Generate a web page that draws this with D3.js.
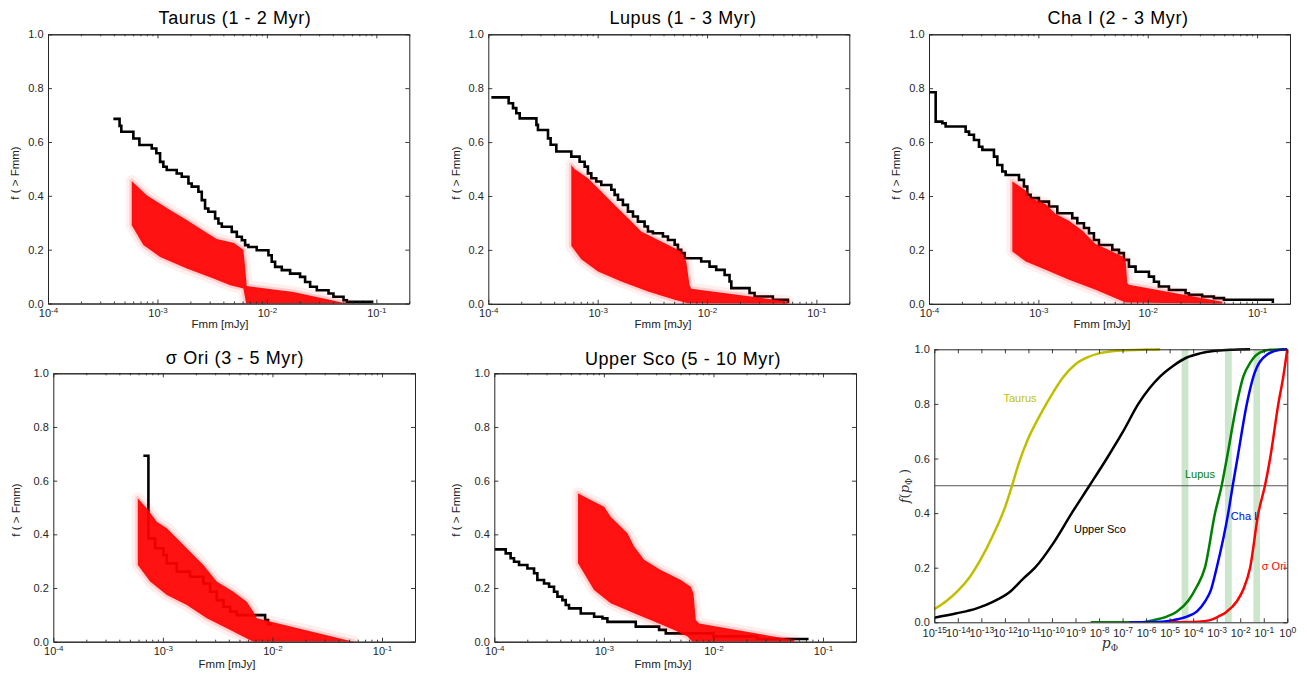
<!DOCTYPE html>
<html><head><meta charset="utf-8">
<script src="https://cdn.jsdelivr.net/npm/d3@7"></script>
<style>
body{margin:0;background:#fff;}
svg{display:block;font-family:"Liberation Sans",Arial,Helvetica,sans-serif;}
</style></head><body>
<svg id="chart" width="1307" height="673"></svg>
<script>
// ---------------- DATA (log10 flux, fraction) ----------------
const fluxMajorExp = [-4, -3, -2, -1];
const fracTicks = [0, 0.2, 0.4, 0.6, 0.8, 1.0];

const taurusObs = [[-3.403,0.686],[-3.346,0.660],[-3.330,0.638],[-3.220,0.613],[-3.165,0.589],[-3.052,0.576],[-3.010,0.558],[-2.976,0.526],[-2.946,0.508],[-2.915,0.496],[-2.824,0.483],[-2.778,0.471],[-2.717,0.446],[-2.687,0.434],[-2.626,0.415],[-2.595,0.384],[-2.565,0.353],[-2.535,0.341],[-2.473,0.316],[-2.443,0.297],[-2.412,0.285],[-2.321,0.266],[-2.275,0.248],[-2.229,0.235],[-2.199,0.217],[-2.169,0.210],[-2.093,0.198],[-1.986,0.179],[-1.956,0.155],[-1.925,0.136],[-1.864,0.124],[-1.788,0.111],[-1.697,0.099],[-1.651,0.080],[-1.605,0.062],[-1.544,0.049],[-1.437,0.037],[-1.392,0.025],[-1.300,0.012],[-1.270,0.006],[-1.027,0.006]];
const taurusRedUpper = [[-3.235,0.455],[-3.098,0.402],[-2.885,0.347],[-2.732,0.310],[-2.580,0.270],[-2.458,0.240],[-2.300,0.225],[-2.215,0.200],[-2.200,0.140],[-2.184,0.065],[-1.758,0.043],[-1.270,0.0]];
const taurusRedLower = [[-3.235,0.291],[-3.129,0.217],[-2.976,0.173],[-2.732,0.130],[-2.489,0.093],[-2.336,0.068],[-2.215,0.056],[-2.190,0.0],[-1.270,0.0]];

const lupusObs = [[-3.972,0.766],[-3.814,0.744],[-3.774,0.726],[-3.744,0.707],[-3.713,0.688],[-3.560,0.664],[-3.546,0.645],[-3.454,0.614],[-3.430,0.590],[-3.378,0.565],[-3.241,0.546],[-3.165,0.527],[-3.119,0.509],[-3.089,0.484],[-3.058,0.466],[-3.013,0.454],[-2.967,0.441],[-2.875,0.423],[-2.845,0.404],[-2.814,0.386],[-2.769,0.367],[-2.723,0.342],[-2.677,0.324],[-2.632,0.305],[-2.571,0.287],[-2.540,0.268],[-2.495,0.262],[-2.403,0.250],[-2.357,0.237],[-2.296,0.219],[-2.266,0.200],[-2.236,0.188],[-2.205,0.169],[-2.053,0.157],[-1.977,0.138],[-1.916,0.126],[-1.839,0.107],[-1.794,0.083],[-1.778,0.058],[-1.611,0.040],[-1.565,0.027],[-1.398,0.015],[-1.260,0.003]];
const lupusRedUpper = [[-3.241,0.515],[-3.211,0.500],[-3.089,0.466],[-2.967,0.417],[-2.845,0.367],[-2.723,0.318],[-2.601,0.268],[-2.419,0.231],[-2.236,0.194],[-2.190,0.157],[-2.160,0.071],[-2.144,0.056],[-1.260,0.009]];
const lupusRedLower = [[-3.241,0.215],[-3.150,0.165],[-2.997,0.120],[-2.784,0.083],[-2.540,0.046],[-2.297,0.015],[-2.175,0.002],[-1.260,0.0]];

const chaObs = [[-3.997,0.785],[-3.939,0.676],[-3.878,0.670],[-3.848,0.658],[-3.665,0.639],[-3.634,0.627],[-3.589,0.608],[-3.543,0.583],[-3.512,0.571],[-3.406,0.546],[-3.375,0.515],[-3.330,0.491],[-3.299,0.478],[-3.177,0.460],[-3.132,0.435],[-3.101,0.404],[-3.071,0.392],[-2.995,0.379],[-2.903,0.361],[-2.827,0.336],[-2.690,0.318],[-2.644,0.299],[-2.583,0.281],[-2.537,0.262],[-2.492,0.237],[-2.446,0.218],[-2.324,0.200],[-2.263,0.188],[-2.218,0.163],[-2.172,0.138],[-2.111,0.119],[-1.989,0.101],[-1.943,0.082],[-1.898,0.064],[-1.806,0.051],[-1.654,0.039],[-1.623,0.033],[-1.502,0.027],[-1.395,0.021],[-1.303,0.015],[-0.856,0.003]];
const chaRedUpper = [[-3.238,0.455],[-3.116,0.420],[-3.086,0.395],[-2.934,0.370],[-2.842,0.333],[-2.720,0.308],[-2.598,0.272],[-2.477,0.222],[-2.355,0.200],[-2.233,0.176],[-2.202,0.163],[-2.187,0.077],[-2.172,0.071],[-1.319,0.008]];
const chaRedLower = [[-3.238,0.194],[-3.116,0.157],[-2.934,0.126],[-2.720,0.089],[-2.477,0.052],[-2.294,0.021],[-2.202,0.005],[-1.319,0.0]];

const sigmaObs = [[-3.178,0.693],[-3.132,0.385],[-3.071,0.348],[-2.995,0.323],[-2.964,0.292],[-2.873,0.261],[-2.752,0.242],[-2.630,0.217],[-2.569,0.186],[-2.508,0.155],[-2.447,0.130],[-2.386,0.112],[-2.325,0.099],[-2.067,0.081],[-2.040,0.065],[-2.006,0.065]];
const sigmaRedUpper = [[-3.229,0.534],[-3.147,0.497],[-3.055,0.447],[-2.964,0.423],[-2.843,0.373],[-2.751,0.335],[-2.630,0.286],[-2.508,0.224],[-2.356,0.186],[-2.234,0.149],[-2.174,0.112],[-2.143,0.087],[-1.260,0.0]];
const sigmaRedLower = [[-3.229,0.286],[-3.117,0.224],[-2.964,0.174],[-2.782,0.137],[-2.599,0.087],[-2.417,0.050],[-2.234,0.012],[-2.174,0.0],[-1.260,0.0]];

const uscoObs = [[-3.997,0.344],[-3.896,0.329],[-3.851,0.311],[-3.820,0.298],[-3.774,0.286],[-3.698,0.273],[-3.637,0.255],[-3.607,0.230],[-3.546,0.217],[-3.500,0.205],[-3.455,0.186],[-3.424,0.168],[-3.379,0.155],[-3.348,0.137],[-3.318,0.124],[-3.211,0.105],[-3.089,0.093],[-3.013,0.087],[-2.968,0.074],[-2.709,0.056],[-2.496,0.044],[-2.435,0.031],[-2.000,0.020],[-1.600,0.010],[-1.132,0.010]];
const uscoRedUpper = [[-3.236,0.553],[-3.150,0.534],[-2.998,0.503],[-2.938,0.466],[-2.785,0.404],[-2.724,0.355],[-2.633,0.305],[-2.481,0.267],[-2.298,0.230],[-2.207,0.205],[-2.182,0.180],[-2.161,0.081],[-2.130,0.068],[-1.263,0.006]];
const uscoRedLower = [[-3.236,0.292],[-3.090,0.193],[-2.938,0.143],[-2.724,0.106],[-2.542,0.075],[-2.359,0.044],[-2.237,0.019],[-2.191,0.0],[-1.263,0.0]];

// summary panel: log10 p, cumulative fraction
const pTickExp = d3.range(-15, 1);
const taurusCdf = [[-15.0,0.048],[-14.5,0.077],[-14.0,0.115],[-13.5,0.165],[-13.0,0.235],[-12.5,0.320],[-12.0,0.420],[-11.7,0.500],[-11.4,0.585],[-11.0,0.675],[-10.5,0.760],[-10.0,0.835],[-9.5,0.900],[-9.0,0.945],[-8.5,0.970],[-8.0,0.985],[-7.0,0.996],[-6.0,0.999],[-5.4,1.0]];
const uscoCdf = [[-15.0,0.017],[-14.05,0.033],[-13.20,0.051],[-12.49,0.076],[-11.78,0.112],[-11.22,0.160],[-10.72,0.200],[-9.94,0.290],[-9.16,0.400],[-8.41,0.500],[-7.67,0.600],[-6.97,0.700],[-6.33,0.800],[-5.83,0.860],[-5.41,0.900],[-4.84,0.940],[-4.27,0.970],[-3.71,0.985],[-3.14,0.994],[-2.43,0.998],[-1.58,1.0]];
const lupusCdf = [[-8.35,0.0],[-6.26,0.0],[-5.69,0.008],[-5.12,0.021],[-4.70,0.039],[-4.20,0.080],[-3.85,0.130],[-3.50,0.200],[-3.07,0.400],[-2.79,0.500],[-2.57,0.600],[-2.15,0.800],[-1.87,0.900],[-1.58,0.950],[-1.30,0.980],[-0.73,0.998],[0.0,1.0]];
const chaCdf = [[-6.71,0.0],[-5.50,0.001],[-4.84,0.008],[-4.27,0.021],[-3.85,0.039],[-3.50,0.076],[-3.24,0.120],[-3.00,0.200],[-2.51,0.400],[-2.32,0.500],[-2.12,0.600],[-1.72,0.800],[-1.44,0.900],[-0.87,0.980],[-0.31,0.998],[0.0,1.0]];
const sigmaCdf = [[-4.98,0.0],[-3.80,0.002],[-3.28,0.008],[-2.93,0.021],[-2.57,0.039],[-2.15,0.076],[-1.87,0.120],[-1.58,0.200],[-1.23,0.400],[-0.95,0.500],[-0.73,0.600],[-0.38,0.800],[-0.17,0.900],[0.0,1.0]];
const bandRanges = [[-4.49,-4.20],[-2.65,-2.36],[-1.44,-1.16]];
const medianLine = 0.5;

// ---------------- LAYOUT ----------------
const svg = d3.select('#chart');
const FONT = '"Liberation Sans",Arial,Helvetica,sans-serif';
const AX = '#262626';

const panels = [
  {title:'Taurus (1 - 2 Myr)', tx:235, ty:23.5, l:48, r:409.3, t:34.3, b:303.5, ylx:19, yly:173, xlx:220, xly:328, obs:taurusObs, up:taurusRedUpper, lo:taurusRedLower},
  {title:'Lupus (1 - 3 Myr)', tx:683, ty:23.5, l:488.3, r:849.3, t:34.3, b:303.8, ylx:460, yly:173, xlx:663, xly:328, obs:lupusObs, up:lupusRedUpper, lo:lupusRedLower},
  {title:'Cha I (2 - 3 Myr)', tx:1118, ty:23.5, l:929, r:1290, t:34.3, b:303.8, ylx:900, yly:173, xlx:1102, xly:328, obs:chaObs, up:chaRedUpper, lo:chaRedLower},
  {title:'σ Ori (3 - 5 Myr)', tx:235, ty:364, l:53.3, r:415, t:373.3, b:641.7, ylx:20, yly:510, xlx:227, xly:668, obs:sigmaObs, up:sigmaRedUpper, lo:sigmaRedLower},
  {title:'Upper Sco (5 - 10 Myr)', tx:683, ty:364.5, l:494.3, r:856, t:373.3, b:641.7, ylx:460, yly:510, xlx:663, xly:668, obs:uscoObs, up:uscoRedUpper, lo:uscoRedLower}
];

function styleAxis(g){
  g.attr('color', AX).attr('font-family', FONT).attr('font-size', 11);
  g.selectAll('.domain').attr('stroke-width', 1);
  g.selectAll('.tick line').attr('stroke-width', 0.9);
}

function supLabels(g, expOf, supSize){
  g.selectAll('.tick text').each(function(d){
    const t = d3.select(this);
    t.text('');
    t.append('tspan').text('10');
    t.append('tspan').attr('dy', '-0.45em').attr('font-size', supSize + 'px').text(expOf(d));
  });
}

panels.forEach((p, i) => {
  const x = d3.scaleLog().domain([1e-4, 0.2]).range([p.l, p.r]);
  const y = d3.scaleLinear().domain([0, 1]).range([p.b, p.t]);
  const g = svg.append('g');
  const cid = 'clip' + i;
  svg.append('clipPath').attr('id', cid).append('rect')
    .attr('x', p.l).attr('y', p.t).attr('width', p.r - p.l).attr('height', p.b - p.t);
  const plot = g.append('g').attr('clip-path', `url(#${cid})`);

  const stepLine = d3.line().x(d => x(Math.pow(10, d[0]))).y(d => y(d[1])).curve(d3.curveStepAfter);
  plot.append('path').attr('d', stepLine(p.obs)).attr('fill', 'none')
    .attr('stroke', '#000').attr('stroke-width', 2.6).attr('stroke-linejoin', 'miter');

  const poly = d3.line().x(d => x(Math.pow(10, d[0]))).y(d => y(d[1]));
  const band = p.up.concat(p.lo.slice().reverse());
  const dBand = poly(band) + 'Z';
  plot.append('path').attr('d', dBand).attr('fill', 'none').attr('stroke', '#ff0000')
    .attr('stroke-opacity', 0.06).attr('stroke-width', 12).attr('stroke-linejoin', 'round');
  plot.append('path').attr('d', dBand).attr('fill', 'none').attr('stroke', '#ff0000')
    .attr('stroke-opacity', 0.14).attr('stroke-width', 5).attr('stroke-linejoin', 'round');
  plot.append('path').attr('d', dBand).attr('fill', '#ff0000').attr('fill-opacity', 0.93);

  // axes
  const majors = fluxMajorExp.map(e => Math.pow(10, e));
  const minors = [];
  [-4, -3, -2, -1].forEach(e => { for (let k = 2; k <= 9; k++) { const v = k * Math.pow(10, e); if (v <= 0.2) minors.push(v); } });

  const gb = g.append('g').attr('transform', `translate(0,${p.b})`)
    .call(d3.axisBottom(x).tickValues(majors).tickSize(-4).tickSizeOuter(0).tickPadding(5.2));
  styleAxis(gb);
  supLabels(gb, d => String(Math.round(Math.log10(d))), 8);
  const gbm = g.append('g').attr('transform', `translate(0,${p.b})`)
    .call(d3.axisBottom(x).tickValues(minors).tickSize(-2).tickSizeOuter(0).tickFormat(() => ''));
  styleAxis(gbm);
  const gt = g.append('g').attr('transform', `translate(0,${p.t})`)
    .call(d3.axisTop(x).tickValues(majors).tickSize(-4).tickSizeOuter(0).tickFormat(() => ''));
  styleAxis(gt);
  const gtm = g.append('g').attr('transform', `translate(0,${p.t})`)
    .call(d3.axisTop(x).tickValues(minors).tickSize(-2).tickSizeOuter(0).tickFormat(() => ''));
  styleAxis(gtm);
  const gl = g.append('g').attr('transform', `translate(${p.l},0)`)
    .call(d3.axisLeft(y).tickValues(fracTicks).tickSize(-4).tickSizeOuter(0).tickPadding(4.5).tickFormat(d3.format('.1f')));
  styleAxis(gl);
  const gr = g.append('g').attr('transform', `translate(${p.r},0)`)
    .call(d3.axisRight(y).tickValues(fracTicks).tickSize(-4).tickSizeOuter(0).tickFormat(() => ''));
  styleAxis(gr);

  g.append('text').attr('x', p.tx).attr('y', p.ty).attr('text-anchor', 'middle')
    .attr('font-family', FONT).attr('font-size', 18).attr('letter-spacing', 0.6).attr('fill', '#000').text(p.title);
  g.append('text').attr('x', p.xlx).attr('y', p.xly).attr('text-anchor', 'middle')
    .attr('font-family', FONT).attr('font-size', 11.5).attr('fill', '#222').text('Fmm [mJy]');
  g.append('text').attr('transform', `translate(${p.ylx},${p.yly}) rotate(-90)`).attr('text-anchor', 'middle')
    .attr('font-family', FONT).attr('font-size', 11.5).attr('fill', '#222').text('f ( > Fmm)');
});

// ---------------- SUMMARY PANEL ----------------
(function(){
  const L = 934.3, R = 1287.3, T = 349.3, B = 622.3;
  const x = d3.scaleLog().domain([1e-15, 1]).range([L, R]);
  const y = d3.scaleLinear().domain([0, 1]).range([B, T]);
  const g = svg.append('g');
  svg.append('clipPath').attr('id', 'clip6').append('rect').attr('x', L).attr('y', T - 2).attr('width', R - L).attr('height', B - T + 2);
  const plot = g.append('g').attr('clip-path', 'url(#clip6)');

  plot.selectAll('rect.band').data(bandRanges).enter().append('rect')
    .attr('x', d => x(Math.pow(10, d[0]))).attr('width', d => x(Math.pow(10, d[1])) - x(Math.pow(10, d[0])))
    .attr('y', T).attr('height', B - T).attr('fill', 'green').attr('fill-opacity', 0.2);

  plot.append('line').attr('x1', L).attr('x2', R).attr('y1', y(medianLine)).attr('y2', y(medianLine))
    .attr('stroke', '#555').attr('stroke-width', 1.1);

  const line = d3.line().x(d => x(Math.pow(10, d[0]))).y(d => y(d[1])).curve(d3.curveMonotoneX);
  const series = [
    {data: taurusCdf, color: '#bfbf00'},
    {data: uscoCdf, color: '#000000'},
    {data: lupusCdf, color: '#008000'},
    {data: chaCdf, color: '#0000ff'},
    {data: sigmaCdf, color: '#ff0000'}
  ];
  series.forEach(s => {
    plot.append('path').attr('d', line(s.data)).attr('fill', 'none')
      .attr('stroke', s.color).attr('stroke-width', 2.5);
  });

  const majors = pTickExp.map(e => Math.pow(10, e));
  const gb = g.append('g').attr('transform', `translate(0,${B})`)
    .call(d3.axisBottom(x).tickValues(majors).tickSize(-4).tickSizeOuter(0).tickPadding(7));
  styleAxis(gb);
  supLabels(gb, d => String(Math.round(Math.log10(d))), 8.5);
  const gt = g.append('g').attr('transform', `translate(0,${T})`)
    .call(d3.axisTop(x).tickValues(majors).tickSize(-4).tickSizeOuter(0).tickFormat(() => ''));
  styleAxis(gt);
  const gl = g.append('g').attr('transform', `translate(${L},0)`)
    .call(d3.axisLeft(y).tickValues(fracTicks).tickSize(-4).tickSizeOuter(0).tickPadding(4.5).tickFormat(d3.format('.1f')));
  styleAxis(gl);
  const gr = g.append('g').attr('transform', `translate(${R},0)`)
    .call(d3.axisRight(y).tickValues(fracTicks).tickSize(-4).tickSizeOuter(0).tickFormat(() => ''));
  styleAxis(gr);

  const labels = [
    {t: 'Taurus', x: 1020, y: 402, c: '#bfbf00'},
    {t: 'Upper Sco', x: 1100, y: 533, c: '#000000'},
    {t: 'Lupus', x: 1200, y: 478, c: '#008000'},
    {t: 'Cha I', x: 1244, y: 520, c: '#0000ff'},
    {t: 'σ Ori', x: 1274, y: 570, c: '#ff0000'}
  ];
  g.selectAll('text.lab').data(labels).enter().append('text')
    .attr('x', d => d.x).attr('y', d => d.y).attr('text-anchor', 'middle')
    .attr('font-family', FONT).attr('font-size', 11).attr('fill', d => d.c).text(d => d.t);

  const SERIF = '"DejaVu Serif","Liberation Serif",serif';
  const xl = g.append('text').attr('x', 1110).attr('y', 648).attr('text-anchor', 'middle')
    .attr('font-family', SERIF).attr('font-size', 14).attr('fill', '#333');
  xl.append('tspan').attr('font-style', 'italic').text('p');
  xl.append('tspan').attr('font-size', 9).attr('dy', 3).text('Φ');

  const yl = g.append('text').attr('transform', 'translate(909,486) rotate(-90)').attr('text-anchor', 'middle')
    .attr('font-family', SERIF).attr('font-size', 13).attr('fill', '#333');
  yl.append('tspan').attr('font-style', 'italic').text('f');
  yl.append('tspan').text('(');
  yl.append('tspan').attr('font-style', 'italic').text('p');
  yl.append('tspan').attr('font-size', 8.5).attr('dy', 3).text('Φ');
  yl.append('tspan').attr('dy', -3).text(' )');
})();
</script>
</body></html>
